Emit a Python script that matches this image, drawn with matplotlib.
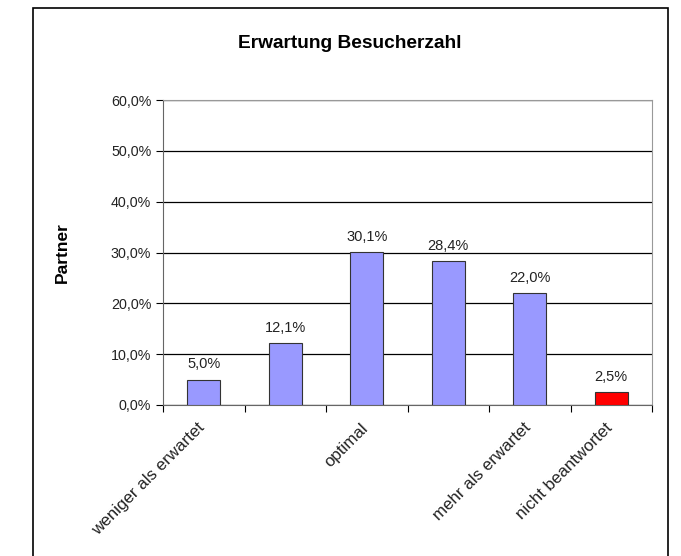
import matplotlib
matplotlib.use('Agg')
import matplotlib.pyplot as plt
from matplotlib.patches import Rectangle
from matplotlib.ticker import FuncFormatter, FixedLocator

plt.rcParams['font.family'] = ['Liberation Sans', 'DejaVu Sans']

# Daten
kategorien = ['weniger als erwartet', '', 'optimal', '', 'mehr als erwartet', 'nicht beantwortet']
werte = [5.0, 12.1, 30.1, 28.4, 22.0, 2.5]
farben = ['#9999FF', '#9999FF', '#9999FF', '#9999FF', '#9999FF', '#FF0000']
y_ticks = [0, 10, 20, 30, 40, 50, 60]

fig = plt.figure(figsize=(6.81, 5.56), dpi=100)

# Rahmen um das Diagramm
fig.patches.append(Rectangle((33 / 681, -0.05), (668 - 33) / 681, 1.05 - 8 / 556,
                             transform=fig.transFigure, fill=False,
                             edgecolor='black', linewidth=1.2))

ax = fig.add_axes([163 / 681, 1 - 405 / 556, (652 - 163) / 681, (405 - 100) / 556])

x = range(len(werte))
ax.bar(x, werte, width=0.4, color=farben, edgecolor='#333333', linewidth=0.8, zorder=3)

for xi, w in zip(x, werte):
    ax.text(xi, w + 1.6, f'{w:.1f}%'.replace('.', ','), ha='center', va='bottom',
            fontsize=10.5, color='#222222')

ax.set_xlim(-0.5, len(werte) - 0.5)
ax.set_ylim(0, 60)
ax.set_yticks(y_ticks)
ax.yaxis.set_major_formatter(FuncFormatter(lambda v, p: f'{v:.1f}%'.replace('.', ',')))
ax.yaxis.grid(True, color='black', linewidth=0.9, zorder=0)

# Kategorie-Trennstriche an der x-Achse
ax.xaxis.set_major_locator(FixedLocator([i - 0.5 for i in range(len(werte) + 1)]))
ax.set_xticklabels([])
ax.tick_params(axis='x', length=5, direction='out')
ax.tick_params(axis='y', length=5, direction='out', labelsize=10.3, labelcolor='#222222')

for xi, k in zip(x, kategorien):
    ax.annotate(k, xy=(xi, 0), xycoords=('data', 'axes fraction'),
                xytext=(-5, -11), textcoords='offset points',
                rotation=45, ha='right', va='top', rotation_mode='anchor',
                fontsize=12.2, color='#222222')

for s in ['top', 'right']:
    ax.spines[s].set_color('#999999')
ax.spines['left'].set_color('#666666')
ax.spines['bottom'].set_color('#666666')

ax.set_ylabel('Partner', fontsize=12.5, fontweight='bold')
ax.yaxis.set_label_coords(-0.19, 0.5)
fig.text(350 / 681, 1 - 44 / 556, 'Erwartung Besucherzahl', ha='center', va='center',
         fontsize=13.8, fontweight='bold')

fig.savefig('out.png', dpi=100)
